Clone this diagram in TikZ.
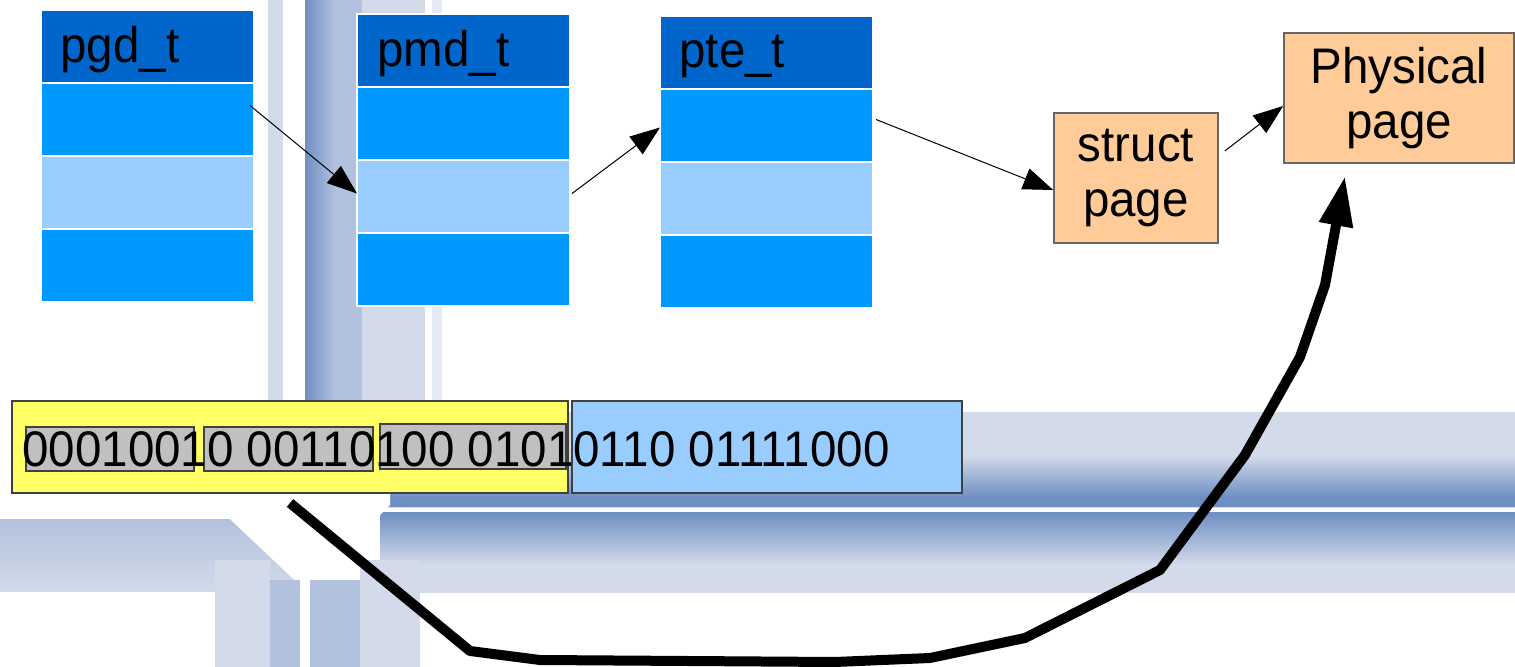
\documentclass[tikz,border=0pt]{standalone}
\usepackage{fontspec}
\setmainfont[FakeStretch=0.95]{Liberation Sans}
\usetikzlibrary{arrows.meta}
\definecolor{hdr}{HTML}{0066CC}
\definecolor{cellblue}{HTML}{0099FF}
\definecolor{celllight}{HTML}{99CCFF}
\definecolor{orangebox}{HTML}{FFCC99}
\definecolor{yellowbox}{HTML}{FFFF66}
\definecolor{graybox}{HTML}{C0C0C0}
\definecolor{bgl}{HTML}{D3DBEA}
\definecolor{bgm}{HTML}{B2C1DD}
\definecolor{bgd}{HTML}{6F8FC2}
\begin{document}
\begin{tikzpicture}[x=0.5pt,y=-0.5pt,
  font=\fontsize{25}{27.5}\selectfont,
  cell/.style={draw=white, line width=0.6pt, minimum width=106.5pt, minimum height=36.5pt, inner sep=0pt, outer sep=0pt, anchor=north west},
  hdrcell/.style={cell, fill=hdr},
  bluecell/.style={cell, fill=cellblue},
  lightcell/.style={cell, fill=celllight},
  label/.style={anchor=base west, inner sep=0pt},
  pagebox/.style={draw=black!60, line width=0.8pt, fill=orangebox, align=center, inner sep=0pt},
  bitbox/.style={draw=black!75, line width=0.6pt, inner sep=0pt, outer sep=0pt, anchor=north west},
  thin/.style={line width=0.5pt, -{Triangle[length=15pt,width=11pt]}},
  thick/.style={line width=5pt, line join=round, -{Triangle[length=25pt,width=16pt]}}
]
\useasboundingbox (0,0) rectangle (1515,667);
% ---------- background decoration ----------
\fill[white] (0,0) rectangle (1515,667);
\fill[bgl] (268,0) rectangle (283,400);
\shade[left color=bgd, right color=bgm] (305,0) rectangle (335,420);
\fill[bgm] (335,0) rectangle (362,420);
\fill[bgl] (362,0) rectangle (425,420);
\fill[bgl!60] (432,0) rectangle (442,420);
% horizontal band right
\fill[bgl] (380,412) rectangle (1515,593);
\shade[top color=bgl, bottom color=bgd] (380,455) rectangle (1515,497);
\fill[bgd] (380,497) rectangle (1515,507);
\fill[white] (380,508) rectangle (1515,513);
\shade[top color=bgd, bottom color=bgl] (380,513) rectangle (1515,565);
% horizontal band left
\shade[top color=bgm, bottom color=bgl] (0,520) rectangle (300,592);
% white V
\fill[white] (200,493) -- (390,493) -- (390,505) -- (305,590) -- (215,505) -- cycle;
% legs below
\fill[bgl] (215,560) rectangle (270,667);
\fill[bgm] (270,580) rectangle (300,667);
\fill[bgm] (310,580) rectangle (360,667);
\fill[bgl] (360,560) rectangle (420,667);
% ---------- tables ----------
\node[hdrcell]   (pgdh) at (41,10)  {};
\node[bluecell]  (pgda) at (41,83)  {};
\node[lightcell] (pgdb) at (41,156) {};
\node[bluecell]  (pgdc) at (41,229) {};
\node[label] (pgdt) at (60,63) {pgd\_t};

\node[hdrcell]   (pmdh) at (357,14)  {};
\node[bluecell]  (pmda) at (357,87)  {};
\node[lightcell] (pmdb) at (357,160) {};
\node[bluecell]  (pmdc) at (357,233) {};
\node[label] (pmdt) at (377,67) {pmd\_t};

\node[hdrcell]   (pteh) at (660,16)  {};
\node[bluecell]  (ptea) at (660,89)  {};
\node[lightcell] (pteb) at (660,162) {};
\node[bluecell]  (ptec) at (660,235) {};
\node[label] (ptet) at (679,68) {pte\_t};

% ---------- pages ----------
\node[pagebox, minimum width=82pt, minimum height=65pt] (sp) at (1136,178) {struct\\page};
\node[pagebox, minimum width=115pt, minimum height=65pt] (pp) at (1399,98) {Physical\\page};

% ---------- address ----------
\node[draw=black!75, line width=0.6pt, fill=yellowbox, minimum width=278pt, minimum height=46pt, inner sep=0pt] (addr) at (290,447) {};
\node[draw=black!75, line width=0.6pt, fill=celllight, minimum width=195pt, minimum height=46pt, inner sep=0pt] (off) at (767,447) {};
\node[bitbox, fill=graybox, minimum width=84pt, minimum height=22pt] (g1) at (26,427) {};
\node[bitbox, fill=graybox, minimum width=84.5pt, minimum height=22pt] (g2) at (204,427) {};
\node[bitbox, fill=graybox, minimum width=93pt, minimum height=22.5pt] (g3) at (380,424) {};
\node[label] (bits) at (22,467) {00010010 00110100 01010110 01111000};

% ---------- connectors ----------
\draw[thin] ([xshift=-2pt,yshift=7pt]pgda.east) -- ([yshift=1.5pt]pmdb.west);
\draw[thin] ([xshift=1pt,yshift=1.5pt]pmdb.east) -- ([yshift=-1pt]ptea.west);
\draw[thin] ([xshift=1.5pt,yshift=3pt]ptea.east) -- ([yshift=-6pt]sp.west);
\draw[thin] ([xshift=3pt,yshift=13.5pt]sp.east) -- ([yshift=-4pt]pp.west);

\coordinate (ts) at (290,503);
\coordinate (te) at (1345,176);
\draw[thick] (ts) -- (470,651) -- (540,660) -- (835,662) -- (930,658) -- (1025,638)
  -- (1160,570) -- (1245,455) -- (1300,357) -- (1325,285) -- (te);
\end{tikzpicture}
\end{document}
